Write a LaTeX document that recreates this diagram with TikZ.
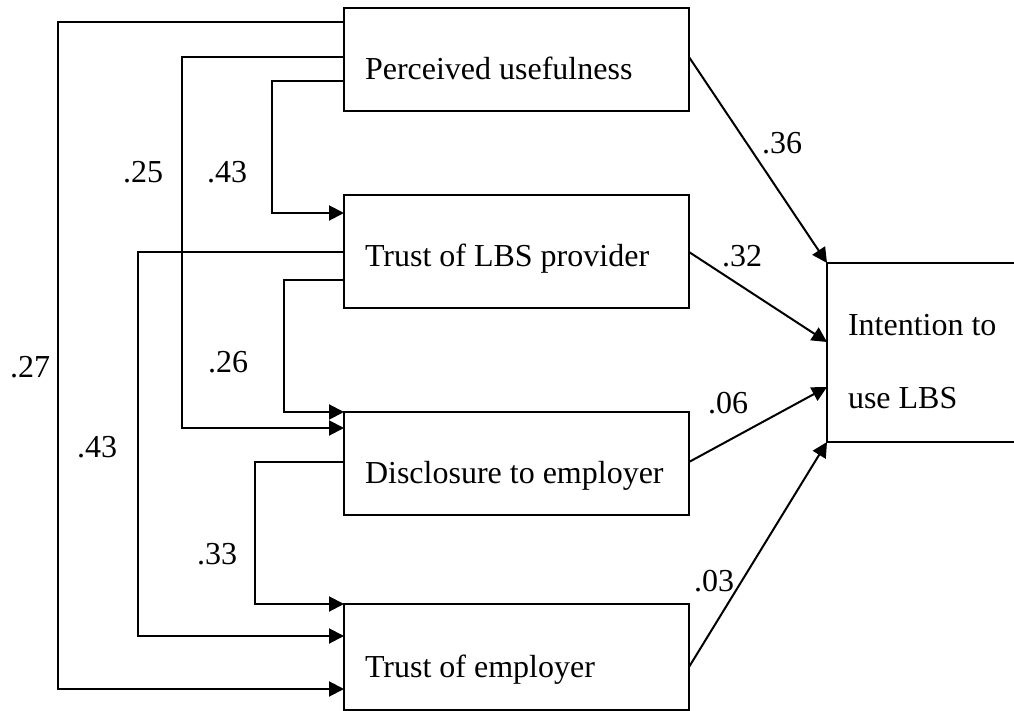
\documentclass[tikz,border=0pt]{standalone}
\usepackage{fontspec}
\setmainfont{Liberation Serif}
\usetikzlibrary{arrows.meta,calc}
\begin{document}
\begin{tikzpicture}[x=1pt,y=-1pt,
  box/.style={draw,line width=2pt,outer sep=0pt,inner sep=0pt,minimum width=345pt,minimum height=103pt,anchor=north west},
  txt/.style={inner sep=0pt,outer sep=0pt,anchor=base west,font=\fontsize{32}{38}\selectfont},
  lab/.style={inner sep=0pt,outer sep=0pt,anchor=center,font=\fontsize{32}{38}\selectfont},
  arr/.style={line width=2pt,-{Triangle[length=15pt,width=15pt]}}]
\useasboundingbox (0,0) rectangle (1014,711);
\clip (0,0) rectangle (1014,711);
% boxes
\node[box] (pu) at (344,8) {};
\node[box,minimum height=113pt] (tl) at (344,195) {};
\node[box] (de) at (344,412) {};
\node[box,minimum height=106pt] (te) at (344,604) {};
\node[box,minimum width=260pt,minimum height=179pt] (int) at (827,263) {};
% texts
\node[txt] (put) at (365,80) {Perceived usefulness};
\node[txt] (tlt) at (365,267) {Trust of LBS provider};
\node[txt] (det) at (365,483) {Disclosure to employer};
\node[txt] (tet) at (365,677) {Trust of employer};
\node[txt] (int1) at (848,335) {Intention to};
\node[txt] (int2) at (848,408) {use LBS};
% left connectors
\draw[arr] ($(pu.north west)+(0,14)$) -- ++(-286,0) |- ($(te.north west)+(0,85)$);
\draw[arr] ($(pu.north west)+(0,49)$) -- ++(-162,0) |- ($(de.north west)+(0,16)$);
\draw[arr] ($(pu.north west)+(0,73)$) -- ++(-72,0) |- ($(tl.north west)+(0,18)$);
\draw[arr] ($(tl.north west)+(0,57)$) -- ++(-206,0) |- ($(te.north west)+(0,32)$);
\draw[arr] ($(tl.north west)+(0,85)$) -- ++(-60,0) |- (de.north west);
\draw[arr] ($(de.north west)+(0,50)$) -- ++(-89,0) |- (te.north west);
% right connectors
\draw[arr] ($(pu.north east)+(0,49)$) -- (int.north west);
\draw[arr] ($(tl.north east)+(0,57)$) -- ($(int.north west)+(0,79)$);
\draw[arr] ($(de.north east)+(0,50)$) -- ($(int.north west)+(0,124)$);
\draw[arr] ($(te.north east)+(0,63)$) -- (int.south west);
% labels
\node[lab] (l25) at (143,172) {.25};
\node[lab] (l43a) at (227,172) {.43};
\node[lab] (l27) at (30,367) {.27};
\node[lab] (l26) at (228,362) {.26};
\node[lab] (l43b) at (97,447) {.43};
\node[lab] (l33) at (217,554) {.33};
\node[lab] (l36) at (782,143) {.36};
\node[lab] (l32) at (742,256) {.32};
\node[lab] (l06) at (728,403) {.06};
\node[lab] (l03) at (714,581) {.03};
\end{tikzpicture}
\end{document}
